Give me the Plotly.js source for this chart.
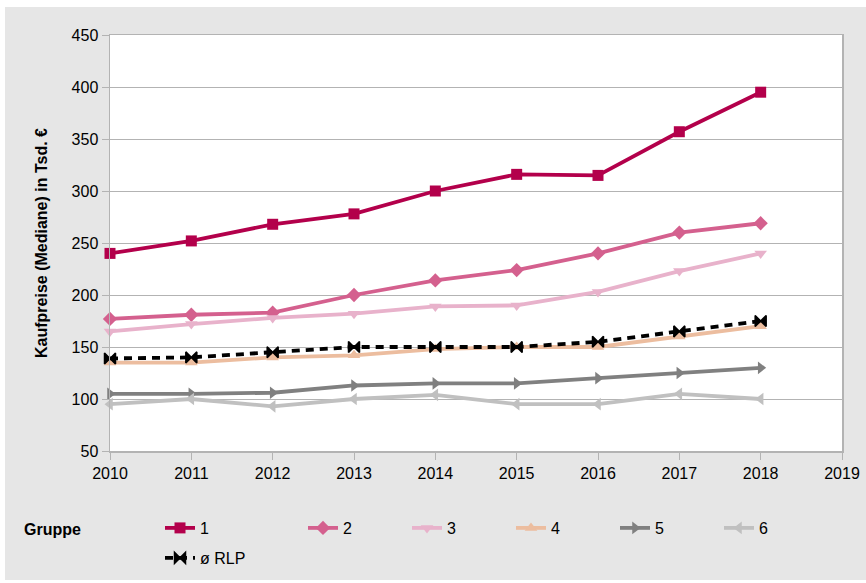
<!DOCTYPE html>
<html>
<head>
<meta charset="utf-8">
<script src="https://cdn.plot.ly/plotly-3.0.1.min.js"></script>
<style>
html,body{margin:0;padding:0;background:#ffffff;}
#chart{position:absolute;left:5px;top:7px;width:861px;height:573px;}
</style>
</head>
<body>
<div id="chart"></div>
<script>
const years = [2010, 2011, 2012, 2013, 2014, 2015, 2016, 2017, 2018];
const gruppe1 = [240, 252, 268, 278, 300, 316, 315, 357, 395];
const gruppe2 = [177, 181, 183, 200, 214, 224, 240, 260, 269];
const gruppe3 = [165, 172, 178, 182, 189, 190, 203, 223, 240];
const gruppe4 = [135, 135, 140, 142, 148, 150, 150, 160, 170];
const gruppe5 = [105, 105, 106, 113, 115, 115, 120, 125, 130];
const gruppe6 = [95, 100, 93, 100, 104, 95, 95, 105, 100];
const rlp = [139, 140, 145, 150, 150, 150, 155, 165, 175];
const seriesNames = ["1", "2", "3", "4", "5", "6", "ø RLP"];
const yTicks = [50, 100, 150, 200, 250, 300, 350, 400, 450];
const xTicks = [2010, 2011, 2012, 2013, 2014, 2015, 2016, 2017, 2018, 2019];

const colors = ["#b3004b", "#d4608e", "#e8b2cb", "#ecbd9f", "#808080", "#c0c0c0", "#000000"];
const symbols = ["square", "diamond", "triangle-down", "triangle-up", "triangle-right", "triangle-left", "bowtie"];
const data = [gruppe1, gruppe2, gruppe3, gruppe4, gruppe5, gruppe6, rlp];
const legendIds = ["legend", "legend2", "legend2", "legend2", "legend2", "legend2", "legend3"];

const traces = data.map((vals, i) => ({
  x: years,
  y: vals,
  type: "scatter",
  mode: "lines+markers",
  name: seriesNames[i],
  legend: legendIds[i],
  line: {color: colors[i], width: 3.8, dash: i === 6 ? "8px,6px" : "solid"},
  marker: {symbol: symbols[i], size: 11, color: colors[i],
           line: {width: i === 6 ? 1.5 : 0, color: colors[i]}},
  cliponaxis: false
}));

const fontFam = "'Liberation Sans', Arial, sans-serif";
const legFont = {family: fontFam, size: 16, color: "#000"};
const W = 861, H = 573;
const cx = ax => (ax - 5) / W;        // absolute x -> container fraction
const cy = ay => (580 - ay) / H;      // absolute y -> container fraction

const layout = {
  width: W, height: H,
  paper_bgcolor: "#e6e6e6",
  plot_bgcolor: "#ffffff",
  margin: {l: 105, r: 24, t: 28, b: 129},
  font: {family: fontFam, size: 16, color: "#000"},
  showlegend: true,
  xaxis: {
    range: [2010, 2019], tickvals: xTicks, ticktext: xTicks.map(String),
    showgrid: false, zeroline: false,
    showline: true, linecolor: "#b3b3b3", linewidth: 1.5, mirror: true,
    ticks: "outside", ticklen: 7, tickcolor: "#b3b3b3", tickwidth: 1,
    tickfont: {family: fontFam, size: 16, color: "#000"}
  },
  yaxis: {
    range: [50, 450], tickvals: yTicks, ticktext: yTicks.map(String),
    showgrid: true, gridcolor: "#b3b3b3", gridwidth: 1, zeroline: false,
    showline: true, linecolor: "#b3b3b3", linewidth: 1.5, mirror: true,
    ticks: "outside", ticklen: 7, tickcolor: "#b3b3b3", tickwidth: 1,
    tickfont: {family: fontFam, size: 16, color: "#000"},
    title: {text: "<b>Kaufpreise (Mediane) in Tsd. €</b>", font: {family: fontFam, size: 16, color: "#000"}, standoff: 20}
  },
  legend: {orientation: "h", xref: "container", yref: "container",
           x: cx(160), xanchor: "left", y: cy(528), yanchor: "middle",
           bgcolor: "rgba(0,0,0,0)", font: legFont},
  legend2: {orientation: "h", xref: "container", yref: "container",
            x: cx(303), xanchor: "left", y: cy(528), yanchor: "middle",
            bgcolor: "rgba(0,0,0,0)", font: legFont, entrywidth: 59, entrywidthmode: "pixels",
            traceorder: "normal"},
  legend3: {orientation: "h", xref: "container", yref: "container",
            x: cx(160), xanchor: "left", y: cy(558), yanchor: "middle",
            bgcolor: "rgba(0,0,0,0)", font: legFont},
  annotations: [{
    text: "<b>Gruppe</b>", xref: "paper", yref: "paper",
    x: (22 - 110) / 732, xanchor: "left",
    y: (451 - 529) / 416, yanchor: "middle",
    showarrow: false, font: {family: fontFam, size: 16, color: "#000"}
  }]
};

Plotly.newPlot("chart", traces, layout, {displayModeBar: false, staticPlot: true});
</script>
</body>
</html>
